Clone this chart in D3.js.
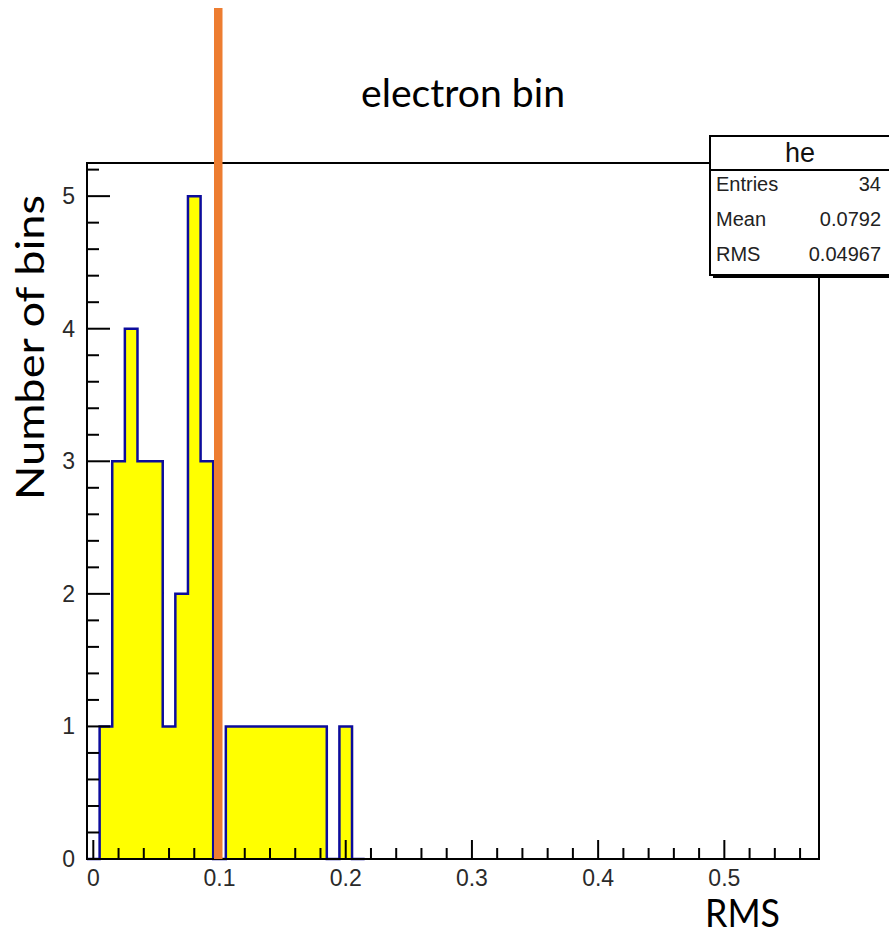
<!DOCTYPE html>
<html>
<head>
<meta charset="utf-8">
<script src="https://cdn.jsdelivr.net/npm/d3@7"></script>
<style>
  html, body { margin: 0; padding: 0; background: #fff; }
  svg { display: block; }
</style>
</head>
<body>
<svg id="chart" width="889" height="937"></svg>
<script>
// Histogram "he": RMS values, 0.01-wide bins starting at -0.005
const binLowEdges = [-0.005, 0.005, 0.015, 0.025, 0.035, 0.045, 0.055, 0.065, 0.075, 0.085,
                     0.095, 0.105, 0.115, 0.125, 0.135, 0.145, 0.155, 0.165, 0.175, 0.185,
                     0.195, 0.205];
const binCounts   = [0, 1, 3, 4, 3, 3, 1, 2, 5, 3,
                     0, 1, 1, 1, 1, 1, 1, 1, 1, 0,
                     1, 0];
const binWidth = 0.01;

const xTickValues = [0, 0.1, 0.2, 0.3, 0.4, 0.5];
const xTickLabels = ["0", "0.1", "0.2", "0.3", "0.4", "0.5"];
const yTickValues = [0, 1, 2, 3, 4, 5];
const yTickLabels = ["0", "1", "2", "3", "4", "5"];

const statsName = "he";
const statsRows = [["Entries", "34"], ["Mean", "0.0792"], ["RMS", "0.04967"]];

const cutValue = 0.099;          // electron-bin cut on RMS
const cutLabel = "electron bin";
const xTitle = "RMS";
const yTitle = "Number of bins";

const xDomain = [-0.005, 0.575];
const yDomain = [0, 5.25];

const svg = d3.select("#chart");
const frame = { left: 87, right: 819, top: 163, bottom: 859 };

const x = d3.scaleLinear().domain(xDomain).range([frame.left, frame.right]);
const y = d3.scaleLinear().domain(yDomain).range([frame.bottom, frame.top]);

// Step outline of the histogram
const stepPoints = [];
binLowEdges.forEach((lo, i) => {
  stepPoints.push([lo, binCounts[i]]);
  stepPoints.push([lo + binWidth, binCounts[i]]);
});
stepPoints.push([binLowEdges[binLowEdges.length - 1] + binWidth, 0]);

const area = d3.area().x(d => x(d[0])).y0(y(0)).y1(d => y(d[1]));
const line = d3.line().x(d => x(d[0])).y(d => y(d[1]));

svg.append("path")
  .datum(stepPoints)
  .attr("d", area)
  .attr("fill", "#ffff00");

svg.append("path")
  .datum(stepPoints)
  .attr("d", line)
  .attr("fill", "none")
  .attr("stroke", "#0c0c9c")
  .attr("stroke-width", 2.5);

// Frame
svg.append("rect")
  .attr("x", frame.left).attr("y", frame.top)
  .attr("width", frame.right - frame.left)
  .attr("height", frame.bottom - frame.top)
  .attr("fill", "none")
  .attr("stroke", "#000")
  .attr("stroke-width", 2);

const tickFont = "Liberation Sans, Arial, sans-serif";

// X ticks (inside, pointing up)
const xMinor = d3.range(0, 0.5751, 0.02).map(v => +v.toFixed(3)).filter(v => !xTickValues.some(t => Math.abs(t - v) < 1e-9));
const xAxis = svg.append("g");
xAxis.selectAll("line.minor").data(xMinor).join("line")
  .attr("x1", d => x(d)).attr("x2", d => x(d))
  .attr("y1", frame.bottom).attr("y2", frame.bottom - 11)
  .attr("stroke", "#000").attr("stroke-width", 2);
xAxis.selectAll("line.major").data(xTickValues).join("line")
  .attr("x1", d => x(d)).attr("x2", d => x(d))
  .attr("y1", frame.bottom).attr("y2", frame.bottom - 19)
  .attr("stroke", "#000").attr("stroke-width", 2);
xAxis.selectAll("text").data(xTickValues).join("text")
  .attr("x", d => x(d)).attr("y", frame.bottom + 27)
  .attr("text-anchor", "middle")
  .attr("font-family", tickFont)
  .attr("font-size", 23)
  .attr("fill", "#2a2a2a")
  .text((d, i) => xTickLabels[i]);

// Y ticks (inside, pointing right)
const yMinor = d3.range(0, 5.2501, 0.2).map(v => +v.toFixed(3)).filter(v => !yTickValues.some(t => Math.abs(t - v) < 1e-9));
const yAxis = svg.append("g");
yAxis.selectAll("line.minor").data(yMinor).join("line")
  .attr("x1", frame.left).attr("x2", frame.left + 12)
  .attr("y1", d => y(d)).attr("y2", d => y(d))
  .attr("stroke", "#000").attr("stroke-width", 2);
yAxis.selectAll("line.major").data(yTickValues).join("line")
  .attr("x1", frame.left).attr("x2", frame.left + 23)
  .attr("y1", d => y(d)).attr("y2", d => y(d))
  .attr("stroke", "#000").attr("stroke-width", 2);
yAxis.selectAll("text").data(yTickValues).join("text")
  .attr("x", frame.left - 12).attr("y", d => y(d) + 8)
  .attr("text-anchor", "end")
  .attr("font-family", tickFont)
  .attr("font-size", 23)
  .attr("fill", "#2a2a2a")
  .text((d, i) => yTickLabels[i]);

// Statistics box
const stats = svg.append("g");
const boxX = 710, headTop = 136, headBottom = 170, boxBottom = 275, boxW = 200;
stats.append("rect")
  .attr("x", boxX + 3).attr("y", headTop + 3)
  .attr("width", boxW).attr("height", boxBottom - headTop)
  .attr("fill", "#000");
stats.append("rect")
  .attr("x", boxX).attr("y", headTop)
  .attr("width", boxW).attr("height", boxBottom - headTop)
  .attr("fill", "#fff").attr("stroke", "#000").attr("stroke-width", 2);
stats.append("line")
  .attr("x1", boxX).attr("x2", boxX + boxW)
  .attr("y1", headBottom).attr("y2", headBottom)
  .attr("stroke", "#000").attr("stroke-width", 2);
stats.append("text")
  .attr("x", 800).attr("y", 162)
  .attr("text-anchor", "middle")
  .attr("font-family", tickFont)
  .attr("font-size", 27)
  .attr("fill", "#111")
  .text(statsName);
statsRows.forEach((row, i) => {
  const by = 191 + i * 35;
  stats.append("text")
    .attr("x", 716).attr("y", by)
    .attr("font-family", tickFont)
    .attr("font-size", 20)
    .attr("fill", "#222")
    .text(row[0]);
  stats.append("text")
    .attr("x", 881).attr("y", by)
    .attr("text-anchor", "end")
    .attr("font-family", tickFont)
    .attr("font-size", 20)
    .attr("fill", "#222")
    .text(row[1]);
});

// Electron-bin cut line
svg.append("line")
  .attr("x1", x(cutValue)).attr("x2", x(cutValue))
  .attr("y1", 8).attr("y2", frame.bottom)
  .attr("stroke", "#ed7d31")
  .attr("stroke-width", 8.5);

// Annotation texts
const annFont = "Lato, 'Open Sans', sans-serif";
svg.append("text")
  .attr("x", 361).attr("y", 107)
  .attr("font-family", annFont)
  .attr("font-size", 39)
  .attr("fill", "#000")
  .attr("textLength", 204).attr("lengthAdjust", "spacingAndGlyphs")
  .text(cutLabel);

svg.append("text")
  .attr("x", 705).attr("y", 927)
  .attr("font-family", annFont)
  .attr("font-size", 38)
  .attr("fill", "#000")
  .attr("textLength", 75).attr("lengthAdjust", "spacingAndGlyphs")
  .text(xTitle);

svg.append("text")
  .attr("transform", "translate(44,500) rotate(-90)")
  .attr("x", 0).attr("y", 0)
  .attr("font-family", annFont)
  .attr("font-size", 39)
  .attr("fill", "#000")
  .attr("textLength", 305).attr("lengthAdjust", "spacingAndGlyphs")
  .text(yTitle);
</script>
</body>
</html>
